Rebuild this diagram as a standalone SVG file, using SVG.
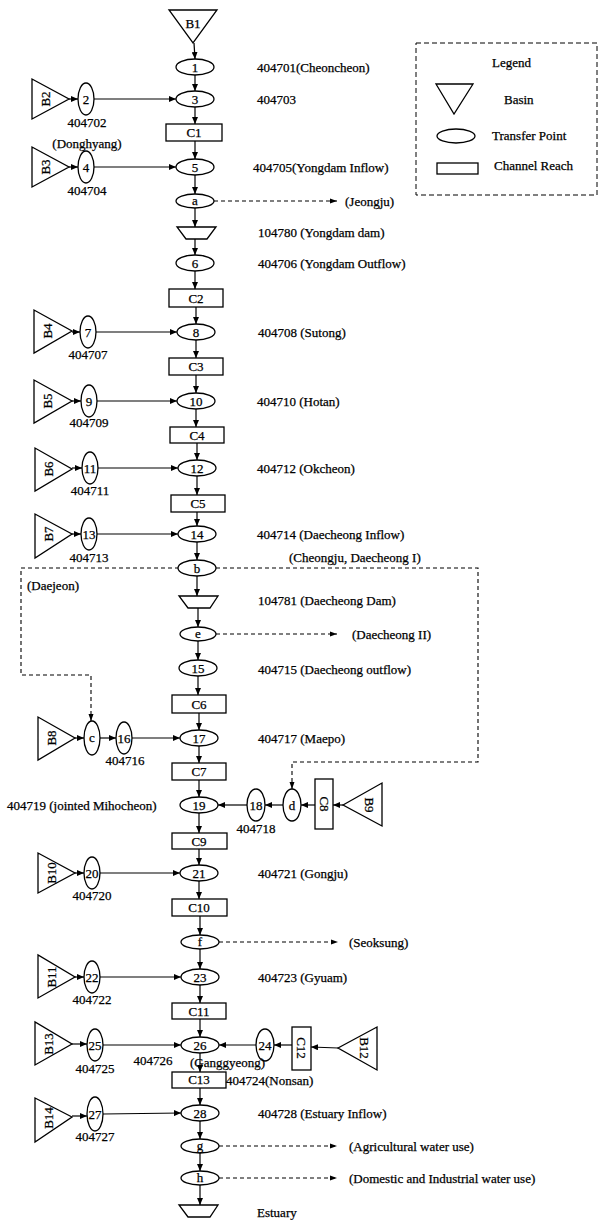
<svg xmlns="http://www.w3.org/2000/svg" width="603" height="1220" viewBox="0 0 603 1220">
<style>
.s{fill:#fff;stroke:#000;stroke-width:1.3}
.t{font-family:"Liberation Serif","Times New Roman",serif;font-size:13px;fill:#000;stroke:#000;stroke-width:0.25;dominant-baseline:central}
.m{text-anchor:middle}
.l{fill:none;stroke:#000;stroke-width:1.2;marker-end:url(#ah)}
.d{fill:none;stroke:#000;stroke-width:1.1;stroke-dasharray:4 3;marker-end:url(#dh)}
</style>
<defs>
<marker id="ah" markerUnits="userSpaceOnUse" markerWidth="7" markerHeight="6" refX="7" refY="3" orient="auto"><path d="M0,0 L7,3 L0,6 z" fill="#000"/></marker>
<marker id="dh" markerUnits="userSpaceOnUse" markerWidth="7" markerHeight="6" refX="7" refY="3" orient="auto"><path d="M0,0.5 L7,3 L0,5.5 z" fill="#000"/></marker>
</defs>
<rect width="603" height="1220" fill="#fff"/>

<g id="connectors">
<line class="l" x1="194" y1="43" x2="195" y2="59"/>
<line class="l" x1="195" y1="75" x2="195" y2="91"/>
<line class="l" x1="195" y1="107" x2="195" y2="124"/>
<line class="l" x1="195" y1="141" x2="195" y2="159"/>
<line class="l" x1="195" y1="175" x2="195" y2="194"/>
<line class="l" x1="195" y1="208" x2="195" y2="227"/>
<line class="l" x1="195" y1="239" x2="195" y2="255"/>
<line class="l" x1="195" y1="271" x2="195" y2="289"/>
<line class="l" x1="196" y1="307" x2="196" y2="324"/>
<line class="l" x1="196" y1="340" x2="196" y2="358"/>
<line class="l" x1="196" y1="375" x2="196" y2="393"/>
<line class="l" x1="196" y1="409" x2="196" y2="427"/>
<line class="l" x1="197" y1="443" x2="197" y2="460"/>
<line class="l" x1="197" y1="476" x2="197" y2="495"/>
<line class="l" x1="197" y1="512" x2="197" y2="526"/>
<line class="l" x1="197" y1="542" x2="197" y2="560"/>
<line class="l" x1="197" y1="576" x2="197" y2="596"/>
<line class="l" x1="198" y1="608" x2="198" y2="627"/>
<line class="l" x1="198" y1="641" x2="198" y2="660"/>
<line class="l" x1="198" y1="676" x2="198" y2="695"/>
<line class="l" x1="199" y1="713" x2="199" y2="730"/>
<line class="l" x1="199" y1="746" x2="199" y2="763"/>
<line class="l" x1="199" y1="780" x2="199" y2="797"/>
<line class="l" x1="199" y1="813" x2="199" y2="833"/>
<line class="l" x1="199" y1="849" x2="199" y2="865"/>
<line class="l" x1="199" y1="881" x2="199" y2="899"/>
<line class="l" x1="200" y1="916" x2="200" y2="935"/>
<line class="l" x1="200" y1="949" x2="200" y2="969"/>
<line class="l" x1="200" y1="985" x2="200" y2="1003"/>
<line class="l" x1="200" y1="1019" x2="200" y2="1037"/>
<line class="l" x1="200" y1="1053" x2="200" y2="1072"/>
<line class="l" x1="200" y1="1088" x2="200" y2="1105"/>
<line class="l" x1="200" y1="1121" x2="200" y2="1139"/>
<line class="l" x1="200" y1="1153" x2="200" y2="1171"/>
<line class="l" x1="200" y1="1185" x2="200" y2="1205"/>
<line class="l" x1="69" y1="99" x2="78" y2="99"/>
<line class="l" x1="94" y1="99" x2="176" y2="99"/>
<line class="l" x1="69" y1="167" x2="78" y2="167"/>
<line class="l" x1="94" y1="167" x2="176" y2="167"/>
<line class="l" x1="72" y1="332" x2="80" y2="332"/>
<line class="l" x1="96" y1="332" x2="177" y2="332"/>
<line class="l" x1="72" y1="401" x2="81" y2="401"/>
<line class="l" x1="97" y1="401" x2="177" y2="401"/>
<line class="l" x1="72" y1="468" x2="82" y2="468"/>
<line class="l" x1="98" y1="468" x2="178" y2="468"/>
<line class="l" x1="72" y1="534" x2="81" y2="534"/>
<line class="l" x1="97" y1="534" x2="178" y2="534"/>
<line class="l" x1="75" y1="738" x2="84" y2="738"/>
<line class="l" x1="100" y1="738" x2="116" y2="738"/>
<line class="l" x1="132" y1="738" x2="180" y2="738"/>
<line class="l" x1="75" y1="873" x2="84" y2="873"/>
<line class="l" x1="100" y1="873" x2="180" y2="873"/>
<line class="l" x1="75" y1="977" x2="84" y2="977"/>
<line class="l" x1="100" y1="977" x2="181" y2="977"/>
<line class="l" x1="72" y1="1044" x2="87" y2="1044"/>
<line class="l" x1="103" y1="1045" x2="181" y2="1045"/>
<line class="l" x1="72" y1="1116" x2="87" y2="1116"/>
<line class="l" x1="103" y1="1114" x2="181" y2="1113"/>
<line class="l" x1="343" y1="805" x2="333" y2="805"/>
<line class="l" x1="315" y1="805" x2="301" y2="805"/>
<line class="l" x1="283" y1="805" x2="265" y2="805"/>
<line class="l" x1="247" y1="805" x2="218" y2="805"/>
<line class="l" x1="338" y1="1048" x2="311" y2="1047"/>
<line class="l" x1="292" y1="1045" x2="274" y2="1045"/>
<line class="l" x1="256" y1="1045" x2="219" y2="1045"/>
<line class="d" x1="214" y1="201" x2="337" y2="201"/>
<polyline class="d" points="179,568 21,568 21,675 91,675 91,721"/>
<polyline class="d" points="216,568 478,568 478,762 292,762 292,789"/>
<line class="d" x1="216" y1="634" x2="337" y2="634"/>
<line class="d" x1="219" y1="942" x2="338" y2="942"/>
<line class="d" x1="219" y1="1146" x2="337" y2="1146"/>
<line class="d" x1="219" y1="1178" x2="337" y2="1178"/>
</g>

<g id="B1"><polygon class="s" points="169,10 217,10 193,43"/><text class="t m" x="193" y="23">B1</text></g>
<g id="n1"><ellipse class="s" cx="195" cy="67" rx="19" ry="8"/><text class="t m" x="195" y="67">1</text></g>
<g id="n3"><ellipse class="s" cx="195" cy="99" rx="19" ry="8"/><text class="t m" x="195" y="99">3</text></g>
<g id="C1"><rect class="s" x="166" y="124" width="56" height="17"/><text class="t m" x="194" y="132">C1</text></g>
<g id="n5"><ellipse class="s" cx="195" cy="167" rx="19" ry="8"/><text class="t m" x="195" y="167">5</text></g>
<g id="na"><ellipse class="s" cx="195" cy="201" rx="19" ry="7"/><text class="t m" x="195" y="200">a</text></g>
<g id="dam1"><polygon class="s" points="177,227 216,227 207,239 186,239"/></g>
<g id="n6"><ellipse class="s" cx="195" cy="263" rx="19" ry="8"/><text class="t m" x="195" y="263">6</text></g>
<g id="C2"><rect class="s" x="169" y="289" width="54" height="18"/><text class="t m" x="196" y="298">C2</text></g>
<g id="n8"><ellipse class="s" cx="196" cy="332" rx="19" ry="8"/><text class="t m" x="196" y="332">8</text></g>
<g id="C3"><rect class="s" x="169" y="358" width="54" height="17"/><text class="t m" x="196" y="366">C3</text></g>
<g id="n10"><ellipse class="s" cx="196" cy="401" rx="19" ry="8"/><text class="t m" x="196" y="401">10</text></g>
<g id="C4"><rect class="s" x="170" y="427" width="54" height="16"/><text class="t m" x="197" y="435">C4</text></g>
<g id="n12"><ellipse class="s" cx="197" cy="468" rx="19" ry="8"/><text class="t m" x="197" y="468">12</text></g>
<g id="C5"><rect class="s" x="171" y="495" width="54" height="17"/><text class="t m" x="198" y="503">C5</text></g>
<g id="n14"><ellipse class="s" cx="197" cy="534" rx="19" ry="8"/><text class="t m" x="197" y="534">14</text></g>
<g id="nb"><ellipse class="s" cx="197" cy="568" rx="19" ry="8"/><text class="t m" x="197" y="568">b</text></g>
<g id="dam2"><polygon class="s" points="179,596 218,596 210,608 188,608"/></g>
<g id="ne"><ellipse class="s" cx="198" cy="634" rx="18" ry="7"/><text class="t m" x="198" y="633">e</text></g>
<g id="n15"><ellipse class="s" cx="198" cy="668" rx="19" ry="8"/><text class="t m" x="198" y="668">15</text></g>
<g id="C6"><rect class="s" x="172" y="695" width="54" height="18"/><text class="t m" x="199" y="704">C6</text></g>
<g id="n17"><ellipse class="s" cx="199" cy="738" rx="19" ry="8"/><text class="t m" x="199" y="738">17</text></g>
<g id="C7"><rect class="s" x="172" y="763" width="54" height="17"/><text class="t m" x="199" y="771">C7</text></g>
<g id="n19"><ellipse class="s" cx="199" cy="805" rx="19" ry="8"/><text class="t m" x="199" y="805">19</text></g>
<g id="C9"><rect class="s" x="172" y="833" width="55" height="16"/><text class="t m" x="199" y="841">C9</text></g>
<g id="n21"><ellipse class="s" cx="199" cy="873" rx="19" ry="8"/><text class="t m" x="199" y="873">21</text></g>
<g id="C10"><rect class="s" x="172" y="899" width="55" height="17"/><text class="t m" x="199" y="907">C10</text></g>
<g id="nf"><ellipse class="s" cx="200" cy="942" rx="19" ry="7"/><text class="t m" x="200" y="941">f</text></g>
<g id="n23"><ellipse class="s" cx="200" cy="977" rx="19" ry="8"/><text class="t m" x="200" y="977">23</text></g>
<g id="C11"><rect class="s" x="172" y="1003" width="54" height="16"/><text class="t m" x="199" y="1011">C11</text></g>
<g id="n26"><ellipse class="s" cx="200" cy="1045" rx="19" ry="8"/><text class="t m" x="200" y="1045">26</text></g>
<g id="C13"><rect class="s" x="172" y="1072" width="54" height="16"/><text class="t m" x="199" y="1079">C13</text></g>
<g id="n28"><ellipse class="s" cx="200" cy="1113" rx="19" ry="8"/><text class="t m" x="200" y="1113">28</text></g>
<g id="ng"><ellipse class="s" cx="200" cy="1146" rx="19" ry="7"/><text class="t m" x="200" y="1145">g</text></g>
<g id="nh"><ellipse class="s" cx="200" cy="1178" rx="19" ry="7"/><text class="t m" x="200" y="1177">h</text></g>
<g id="estuary"><polygon class="s" points="179,1205 218,1205 210,1217 188,1217"/></g>

<g id="B2"><polygon class="s" points="32,79 32,119 69,99"/><text class="t m" transform="translate(45,99) rotate(-90)">B2</text></g>
<g id="n2"><ellipse class="s" cx="86" cy="99" rx="8" ry="16"/><text class="t m" x="86" y="99">2</text></g>
<g id="B3"><polygon class="s" points="32,147 32,187 69,167"/><text class="t m" transform="translate(45,167) rotate(-90)">B3</text></g>
<g id="n4"><ellipse class="s" cx="86" cy="167" rx="8" ry="16"/><text class="t m" x="86" y="167">4</text></g>
<g id="B4"><polygon class="s" points="34,310 34,353 72,331"/><text class="t m" transform="translate(47,331) rotate(-90)">B4</text></g>
<g id="n7"><ellipse class="s" cx="88" cy="332" rx="8" ry="16"/><text class="t m" x="88" y="332">7</text></g>
<g id="B5"><polygon class="s" points="34,380 34,423 72,401"/><text class="t m" transform="translate(47,401) rotate(-90)">B5</text></g>
<g id="n9"><ellipse class="s" cx="89" cy="401" rx="8" ry="16"/><text class="t m" x="89" y="401">9</text></g>
<g id="B6"><polygon class="s" points="35,448 35,491 72,469"/><text class="t m" transform="translate(48,469) rotate(-90)">B6</text></g>
<g id="n11"><ellipse class="s" cx="90" cy="468" rx="8" ry="16"/><text class="t m" x="90" y="468">11</text></g>
<g id="B7"><polygon class="s" points="35,514 35,558 72,534"/><text class="t m" transform="translate(48,534) rotate(-90)">B7</text></g>
<g id="n13"><ellipse class="s" cx="89" cy="534" rx="8" ry="16"/><text class="t m" x="89" y="534">13</text></g>
<g id="B8"><polygon class="s" points="38,717 38,760 75,738"/><text class="t m" transform="translate(51,738) rotate(-90)">B8</text></g>
<g id="nc"><ellipse class="s" cx="92" cy="738" rx="8" ry="17"/><text class="t m" x="92" y="737">c</text></g>
<g id="n16"><ellipse class="s" cx="124" cy="738" rx="8" ry="16"/><text class="t m" x="124" y="738">16</text></g>
<g id="B10"><polygon class="s" points="38,853 38,893 75,873"/><text class="t m" transform="translate(51,873) rotate(-90)">B10</text></g>
<g id="n20"><ellipse class="s" cx="92" cy="873" rx="8" ry="16"/><text class="t m" x="92" y="873">20</text></g>
<g id="B11"><polygon class="s" points="38,955 38,998 75,977"/><text class="t m" transform="translate(51,977) rotate(-90)">B11</text></g>
<g id="n22"><ellipse class="s" cx="92" cy="977" rx="8" ry="16"/><text class="t m" x="92" y="977">22</text></g>
<g id="B13"><polygon class="s" points="35,1022 35,1065 72,1044"/><text class="t m" transform="translate(48,1044) rotate(-90)">B13</text></g>
<g id="n25"><ellipse class="s" cx="95" cy="1045" rx="8" ry="16"/><text class="t m" x="95" y="1045">25</text></g>
<g id="B14"><polygon class="s" points="35,1098 35,1142 72,1117"/><text class="t m" transform="translate(48,1118) rotate(-90)">B14</text></g>
<g id="n27"><ellipse class="s" cx="95" cy="1114" rx="8" ry="17"/><text class="t m" x="95" y="1114">27</text></g>

<g id="n18"><ellipse class="s" cx="256" cy="805" rx="9" ry="16"/><text class="t m" x="256" y="805">18</text></g>
<g id="nd"><ellipse class="s" cx="292" cy="805" rx="9" ry="16"/><text class="t m" x="292" y="805">d</text></g>
<g id="C8"><rect class="s" x="315" y="779" width="18" height="50"/><text class="t m" transform="translate(324,804) rotate(90)">C8</text></g>
<g id="B9"><polygon class="s" points="343,805 382,783 382,826"/><text class="t m" transform="translate(369,805) rotate(90)">B9</text></g>
<g id="n24"><ellipse class="s" cx="265" cy="1045" rx="9" ry="16"/><text class="t m" x="265" y="1045">24</text></g>
<g id="C12"><rect class="s" x="292" y="1027" width="19" height="43"/><text class="t m" transform="translate(301,1048) rotate(90)">C12</text></g>
<g id="B12"><polygon class="s" points="338,1048 377,1027 377,1070"/><text class="t m" transform="translate(364,1048) rotate(90)">B12</text></g>

<g id="labels">
<text class="t" x="257" y="67">404701(Cheoncheon)</text>
<text class="t" x="257" y="99">404703</text>
<text class="t" x="253" y="167">404705(Yongdam Inflow)</text>
<text class="t" x="345" y="201">(Jeongju)</text>
<text class="t" x="258" y="232">104780 (Yongdam dam)</text>
<text class="t" x="258" y="263">404706 (Yongdam Outflow)</text>
<text class="t" x="258" y="332">404708 (Sutong)</text>
<text class="t" x="257" y="401">404710 (Hotan)</text>
<text class="t" x="257" y="468">404712 (Okcheon)</text>
<text class="t" x="257" y="534">404714 (Daecheong Inflow)</text>
<text class="t" x="289" y="557">(Cheongju, Daecheong I)</text>
<text class="t" x="27" y="585">(Daejeon)</text>
<text class="t" x="258" y="600">104781 (Daecheong Dam)</text>
<text class="t" x="352" y="634">(Daecheong II)</text>
<text class="t" x="258" y="669">404715 (Daecheong outflow)</text>
<text class="t" x="258" y="738">404717 (Maepo)</text>
<text class="t" x="7" y="805">404719 (jointed Mihocheon)</text>
<text class="t" x="258" y="873">404721 (Gongju)</text>
<text class="t" x="349" y="942">(Seoksung)</text>
<text class="t" x="258" y="977">404723 (Gyuam)</text>
<text class="t" x="258" y="1113">404728 (Estuary Inflow)</text>
<text class="t" x="349" y="1146">(Agricultural water use)</text>
<text class="t" x="349" y="1178">(Domestic and Industrial water use)</text>
<text class="t" x="257" y="1212">Estuary</text>
<text class="t m" x="87" y="122">404702</text>
<text class="t m" x="87" y="143">(Donghyang)</text>
<text class="t m" x="87" y="190">404704</text>
<text class="t m" x="88" y="354">404707</text>
<text class="t m" x="89" y="422">404709</text>
<text class="t m" x="90" y="490">404711</text>
<text class="t m" x="89" y="557">404713</text>
<text class="t m" x="125" y="760">404716</text>
<text class="t m" x="256" y="828">404718</text>
<text class="t m" x="92" y="895">404720</text>
<text class="t m" x="92" y="999">404722</text>
<text class="t m" x="95" y="1068">404725</text>
<text class="t m" x="95" y="1136">404727</text>
<text class="t m" x="153" y="1060">404726</text>
<text class="t" x="190" y="1062">(Ganggyeong)</text>
<text class="t" x="226" y="1080">404724(Nonsan)</text>
</g>

<g id="legend">
<rect x="416" y="43" width="181" height="152" fill="none" stroke="#000" stroke-width="1" stroke-dasharray="5 3"/>
<text class="t" x="492" y="62">Legend</text>
<polygon class="s" points="436,84 473,84 454,114"/>
<text class="t" x="504" y="99">Basin</text>
<ellipse class="s" cx="456" cy="136" rx="19" ry="7"/>
<text class="t" x="492" y="135">Transfer Point</text>
<rect class="s" x="437" y="163" width="41" height="11"/>
<text class="t" x="494" y="165">Channel Reach</text>
</g>
</svg>
